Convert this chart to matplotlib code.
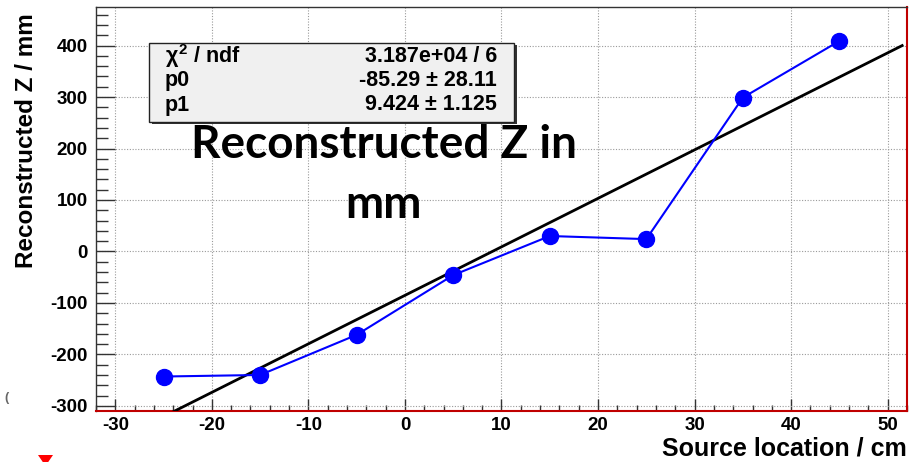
import matplotlib
matplotlib.use("Agg")
import matplotlib.pyplot as plt
from matplotlib.ticker import MultipleLocator
from matplotlib.patches import Rectangle, Polygon
import numpy as np

plt.rcParams['font.family'] = ['Liberation Sans', 'DejaVu Sans']
plt.rcParams['font.weight'] = 'bold'
plt.rcParams['axes.unicode_minus'] = False
plt.rcParams['mathtext.fontset'] = 'custom'
plt.rcParams['mathtext.rm'] = 'Liberation Sans:bold'
plt.rcParams['mathtext.it'] = 'Liberation Sans:bold'
plt.rcParams['mathtext.bf'] = 'Liberation Sans:bold'

# Measured source positions and reconstructed Z
source_cm = [-25, -15, -5, 5, 15, 25, 35, 45]
recon_mm = [-243, -240, -162, -46, 30, 24, 299, 409]

# Linear fit results
p0, p0_err = -85.29, 28.11
p1, p1_err = 9.424, 1.125
chi2_text = "3.187e+04 / 6"

x_ticks = [-30, -20, -10, 0, 10, 20, 30, 40, 50]
y_ticks = [-300, -200, -100, 0, 100, 200, 300, 400]

W, H = 920, 462
fig = plt.figure(figsize=(W / 100, H / 100), dpi=100)
L, R, T, B = 96, 907, 7, 411
ax = fig.add_axes([L / W, 1 - B / H, (R - L) / W, (B - T) / H])

ax.set_xlim(-32, 52)
ax.set_ylim(-310, 475)

ax.grid(True, which='major', linestyle=(0, (1, 1.5)), color='#9a9a9a', linewidth=0.8)
ax.set_axisbelow(True)

# fit line
xf = np.linspace(-25, 51.5, 200)
ax.plot(xf, p0 + p1 * xf, color='black', linewidth=2.0, zorder=3)

# data
ax.plot(source_cm, recon_mm, color='#0000ff', linewidth=1.5, marker='o',
        markersize=11.5, markerfacecolor='#0000ff', markeredgecolor='#0000ff', zorder=4)

ax.set_xticks(x_ticks)
ax.set_yticks(y_ticks)
ax.xaxis.set_minor_locator(MultipleLocator(2))
ax.yaxis.set_minor_locator(MultipleLocator(20))
ax.tick_params(axis='both', which='both', direction='in', labelsize=13.5, width=1.0, colors='#333333',
               labelcolor='black')
ax.tick_params(axis='x', which='major', length=9, pad=4)
ax.tick_params(axis='x', which='minor', length=4)
ax.tick_params(axis='y', which='major', length=14, pad=6)
ax.tick_params(axis='y', which='minor', length=8.5)
for lab in ax.get_xticklabels() + ax.get_yticklabels():
    lab.set_fontweight('bold')

for s in ['left', 'top']:
    ax.spines[s].set_color('#333333')
    ax.spines[s].set_linewidth(1.0)
for s in ['right', 'bottom']:
    ax.spines[s].set_color('#c00000')
    ax.spines[s].set_linewidth(1.5)

fig.text(R / W, 1 - 448 / H, "Source location / cm", ha='right', va='center',
         fontsize=18, fontweight='bold')
fig.text(27 / W, 1 - 141 / H, "Reconstructed Z / mm", ha='center', va='center',
         rotation=90, fontsize=17.5, fontweight='bold')

# statistics box
bx0, by0, bx1, by1 = 149, 43, 514, 122
fig.patches.append(Rectangle((bx0 / W + 3 / W, 1 - (by1 + 2) / H), (bx1 - bx0) / W, (by1 - by0) / H,
                             transform=fig.transFigure, facecolor='#333333', edgecolor='none', zorder=5))
fig.patches.append(Rectangle((bx0 / W, 1 - by1 / H), (bx1 - bx0) / W, (by1 - by0) / H,
                             transform=fig.transFigure, facecolor='#f0f0f0', edgecolor='#222222',
                             linewidth=1.0, zorder=6))
rows = [(r'$\chi^2$ / ndf', chi2_text),
        ("p0", f"{p0:.2f} \u00b1 {p0_err:.2f}"),
        ("p1", f"{p1:.3f} \u00b1 {p1_err:.3f}")]
for i, (name, val) in enumerate(rows):
    yy = 1 - (56 + 24.5 * i) / H
    fig.text(165 / W, yy, name, ha='left', va='center', fontsize=15.5, fontweight='bold', zorder=7)
    fig.text(497 / W, yy, val, ha='right', va='center', fontsize=15.5, fontweight='bold', zorder=7)

# overlaid caption
fig.text(384 / W, 1 - 145 / H, "Reconstructed Z in", ha='center', va='center',
         fontsize=33, fontweight='bold', family=['Lato', 'DejaVu Sans'], zorder=8)
fig.text(384 / W, 1 - 205 / H, "mm", ha='center', va='center',
         fontsize=33, fontweight='bold', family=['Lato', 'DejaVu Sans'], zorder=8)

# small marks at the lower-left margin
fig.text(4 / W, 1 - 398 / H, "(", ha='left', va='center', fontsize=9, color='#666666')
fig.patches.append(Polygon([[38 / W, 1 - 455 / H], [53 / W, 1 - 455 / H], [45.5 / W, 1 - 466 / H]],
                           closed=True, transform=fig.transFigure, facecolor='#ff0000', edgecolor='none'))

fig.savefig("out.png", dpi=100)
